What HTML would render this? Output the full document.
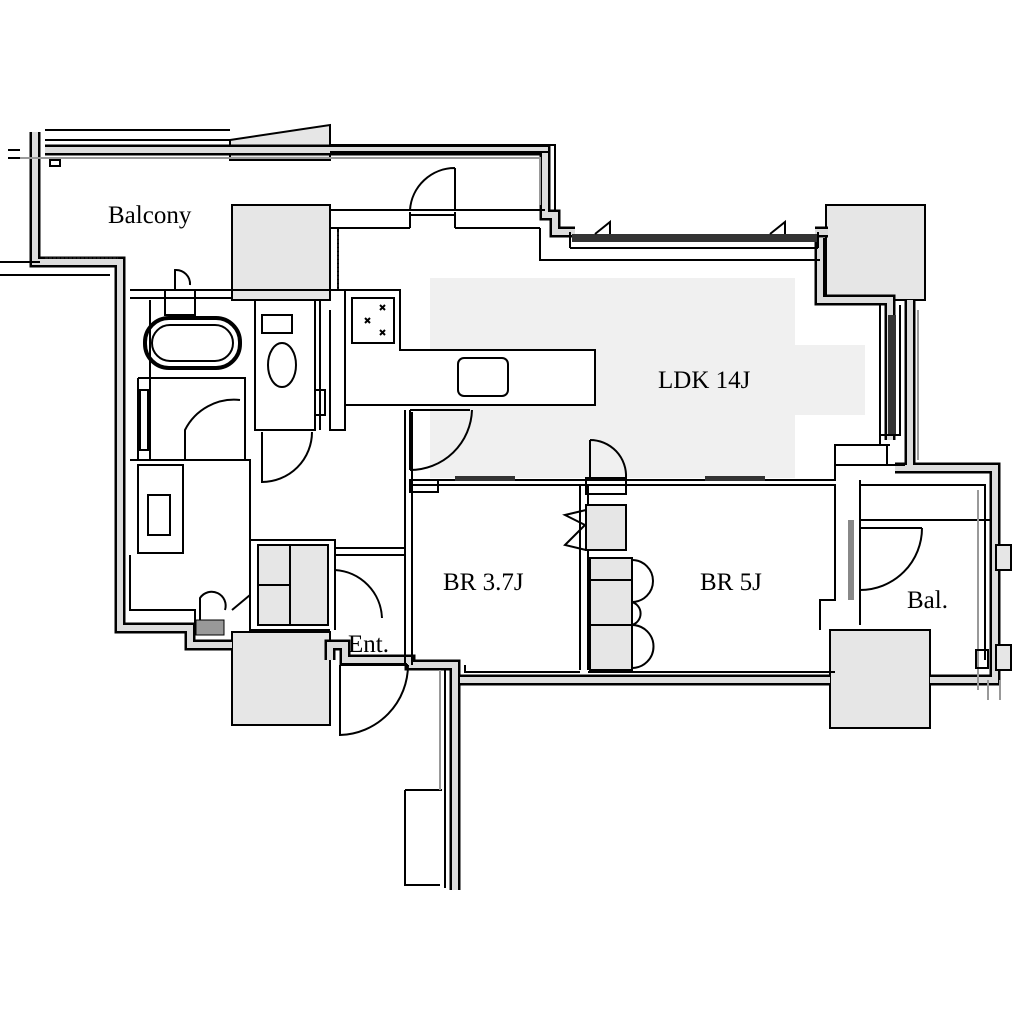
<!DOCTYPE html>
<html><head><meta charset="utf-8"><style>
html,body{margin:0;padding:0;background:#fff;}
svg{display:block}
text{font-family:"Liberation Serif",serif;font-size:25px;fill:#000}
.w{fill:none;stroke:#000;stroke-width:11;stroke-linejoin:miter}
.wi{fill:none;stroke:#dcdcdc;stroke-width:6;stroke-linejoin:miter}
.t{fill:none;stroke:#000;stroke-width:2}
.g{fill:none;stroke:#999;stroke-width:2}
.d{fill:none;stroke:#222;stroke-width:1.5;stroke-dasharray:3 1}
.col{fill:#e6e6e6;stroke:#000;stroke-width:2}
</style></head><body>
<svg width="1024" height="1024" viewBox="0 0 1024 1024" xmlns="http://www.w3.org/2000/svg">
<rect x="430" y="278" width="365" height="200" fill="#f0f0f0"/>
<rect x="500" y="345" width="365" height="70" fill="#f0f0f0"/>
<rect x="350" y="350" width="245" height="55" fill="#fff"/>

<rect class="col" x="232" y="205" width="98" height="95"/>
<rect class="col" x="826" y="205" width="99" height="95"/>
<rect class="col" x="232" y="632" width="98" height="93"/>
<rect class="col" x="830" y="630" width="100" height="98"/>
<polygon class="col" points="230,140 330,125 330,160 230,160"/>

<path class="w" d="M35 132 V262 H120 V628 H190 V645 H232 M330 660 V645 H345 V660 H410 V665 H455 V890 M45 150 H545 V215 H555 V232 H575 M820 238 V300 H890 V440 M815 232 H828 M910 300 V468 M895 468 H995 V680 H930 M460 680 H830"/>
<path class="wi" d="M35 132 V262 H120 V628 H190 V645 H232 M330 660 V645 H345 V660 H410 V665 H455 V890 M45 150 H545 V215 H555 V232 H575 M820 238 V300 H890 V440 M815 232 H828 M910 300 V468 M895 468 H995 V680 H930 M460 680 H830"/>

<path class="t" d="M45 130 H230 M330 145 H555 V210 M45 140 H230 M330 152 H550"/>
<path class="g" d="M20 158 H540 V205"/>
<path class="t" d="M0 262 H40 M0 275 H110"/>
<path class="t" d="M8 150 H20 M8 158 H20"/>
<rect class="t" x="50" y="160" width="10" height="6"/>
<path class="d" d="M45 258 H118"/>

<path class="t" d="M330 210 H410 M330 228 H410 M455 210 H545 M455 228 H540 M410 210 H455 M410 215 H455 M410 228 V212 M455 228 V212"/>
<path class="t" d="M338 228 V290 M540 228 V260 H820"/>
<path class="d" d="M338 232 V290"/>
<rect x="572" y="234" width="245" height="8" fill="#333"/>
<path class="t" d="M570 248 H818 M570 232 V248 M818 232 V248"/>
<path class="t" d="M595 234 L610 222 V234 M770 234 L785 222 V234"/>
<path class="t" d="M455 210 V168 M455 168 A45 45 0 0 0 410 210"/>

<rect x="888" y="315" width="8" height="120" fill="#333"/>
<path class="t" d="M880 305 V435 H900 V305 M880 435 V445 H890"/>
<rect class="t" x="835" y="445" width="52" height="20"/>
<path class="t" d="M885 465 H905"/>
<path class="g" d="M918 310 V460"/>

<path class="t" d="M410 480 H835 V465 M410 485 H835 V600 H820 V630 M835 485 V600"/>
<rect x="455" y="476" width="60" height="5" fill="#333"/>
<rect x="705" y="476" width="60" height="5" fill="#333"/>
<rect class="t" x="410" y="480" width="28" height="12"/>
<path class="t" d="M405 410 V665 M412 412 V665"/>
<path class="t" d="M580 485 V670 M588 485 V670"/>
<path class="t" d="M465 665 V672 H580 M588 672 H835"/>
<path class="t" d="M410 410 H470"/>
<path class="t" d="M410 410 V470 M410 470 A62 62 0 0 0 472 410"/>
<path class="t" d="M590 440 V478 M590 440 A36 36 0 0 1 626 478"/>
<rect class="t" x="586" y="478" width="40" height="16"/>
<rect class="col" x="586" y="505" width="40" height="45"/>
<path class="t" d="M586 510 L565 515 L585 525 L565 545 L586 550"/>
<rect class="col" x="590" y="558" width="42" height="112"/>
<path class="t" d="M590 580 H632 M590 625 H632"/>
<path class="t" d="M632 560 A12 12 0 0 1 632 602 A12 12 0 0 1 632 625 A12 12 0 0 1 632 668"/>

<path class="t" d="M860 480 V625 M860 520 H990 M860 485 H985 V660"/>
<path class="g" d="M978 490 V690 M988 680 V700 M1000 680 V700"/>
<rect x="848" y="520" width="6" height="80" fill="#888"/>
<path class="t" d="M860 590 A62 62 0 0 0 922 528 M860 528 H922"/>
<rect class="col" x="996" y="545" width="15" height="25"/>
<rect class="col" x="996" y="645" width="15" height="25"/>
<rect class="t" x="976" y="650" width="12" height="18"/>

<path class="t" d="M130 290 H345 M130 298 H232 M150 300 V460 H250 M130 460 H250 V615 M130 555 V610 H195 V625"/>
<rect class="t" x="165" y="290" width="30" height="25"/>
<path class="t" d="M175 290 V270 A14 14 0 0 1 190 285"/>
<rect x="145" y="318" width="95" height="50" rx="24" fill="none" stroke="#000" stroke-width="4"/>
<rect x="152" y="325" width="81" height="36" rx="18" fill="none" stroke="#000" stroke-width="2"/>
<path class="t" d="M138 378 H245 V460 M138 378 V460"/>
<rect class="t" x="140" y="390" width="8" height="60"/>
<path class="t" d="M185 460 V430 A55 55 0 0 1 240 400"/>
<rect class="t" x="138" y="465" width="45" height="88"/>
<rect class="t" x="148" y="495" width="22" height="40"/>
<path class="t" d="M255 300 V430 H315 V300 M320 300 V430 M330 310 V430 H345 V290"/>
<rect class="t" x="262" y="315" width="30" height="18"/>
<ellipse class="t" cx="282" cy="365" rx="14" ry="22"/>
<rect class="t" x="315" y="390" width="10" height="25"/>
<path class="t" d="M262 432 V482 A50 50 0 0 0 312 432"/>
<path class="t" d="M345 290 H400 V350 H595 V405 H345 Z"/>
<rect class="t" x="352" y="298" width="42" height="45"/>
<path class="t" d="M380 305 l5 5 M385 305 l-5 5 M380 330 l5 5 M385 330 l-5 5 M365 318 l5 5 M370 318 l-5 5"/>
<rect class="t" x="458" y="358" width="50" height="38" rx="6"/>
<path class="t" d="M250 540 H335 V630 M250 540 V630 H330 M335 548 H405 M335 555 H405"/>
<rect class="col" x="258" y="545" width="70" height="80"/>
<path class="t" d="M258 585 H290 M290 545 V625"/>
<path class="t" d="M335 570 A50 50 0 0 1 382 618 M335 570 V618"/>
<path class="t" d="M200 625 V598 A14 14 0 0 1 225 610"/>
<rect x="196" y="620" width="28" height="15" fill="#999" stroke="#000"/>
<path class="t" d="M232 610 L250 595"/>
<path class="t" d="M340 665 V735 A70 70 0 0 0 408 665 M340 665 H408"/>
<path class="t" d="M445 670 V888 M405 790 V885 H440 M405 790 H442"/>
<path class="g" d="M440 670 V790"/>

<text x="108" y="223">Balcony</text>
<text x="658" y="388">LDK 14J</text>
<text x="443" y="590">BR 3.7J</text>
<text x="700" y="590">BR 5J</text>
<text x="907" y="608">Bal.</text>
<text x="348" y="652">Ent.</text>
</svg>
</body></html>
